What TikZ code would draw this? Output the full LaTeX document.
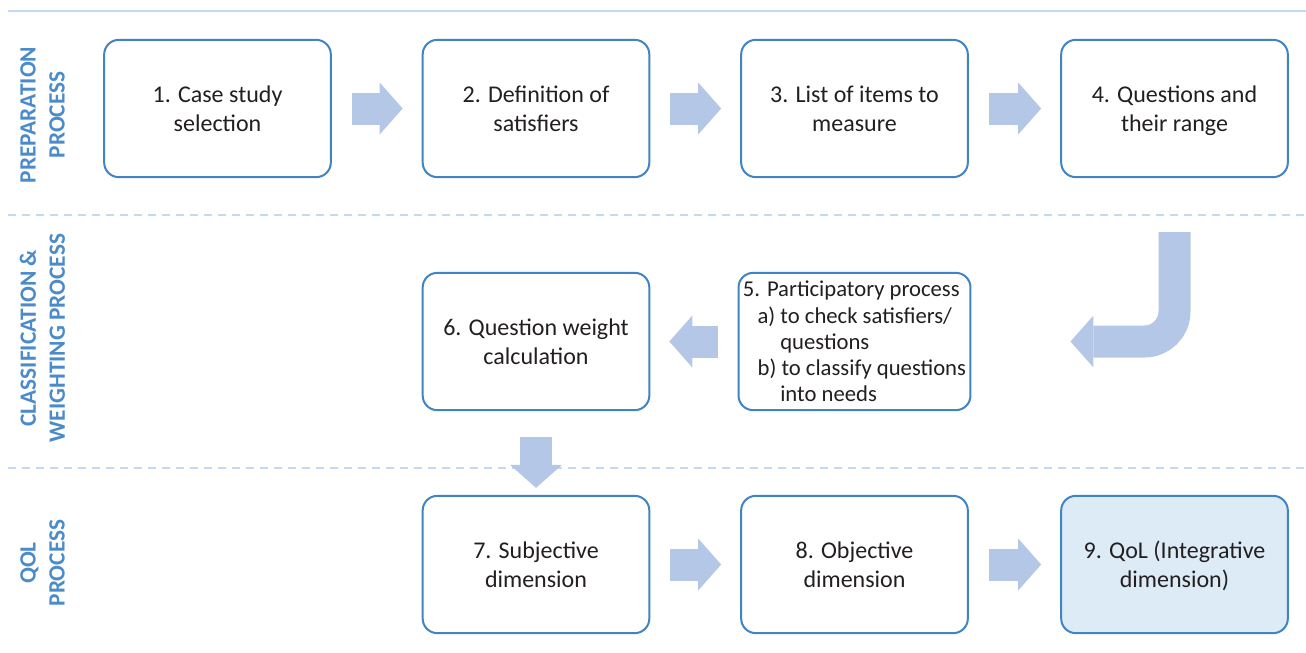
\documentclass[tikz,border=0pt]{standalone}
\usepackage{fontspec}
\setmainfont{Carlito}
\usetikzlibrary{arrows.meta}
\definecolor{boxline}{RGB}{65,132,196}
\definecolor{arrowfill}{RGB}{180,199,231}
\definecolor{qolfill}{RGB}{221,235,247}
\definecolor{rulecol}{RGB}{197,217,241}
\definecolor{phasecol}{RGB}{76,139,202}
\definecolor{textcol}{RGB}{35,31,32}

\begin{document}
\begin{tikzpicture}[x=0.75pt, y=-0.75pt,
  stepbox/.style={draw=boxline, line width=1.5pt, rounded corners=11pt, fill=white,
    minimum width=170pt, minimum height=103pt, align=center, text=textcol,
    font=\fontsize{18}{21.75}\selectfont, text depth=0pt},
  phase/.style={rotate=90, align=center, text=phasecol,
    font=\bfseries\fontsize{17.5}{21.75}\selectfont},
  fatarrow/.style={draw=arrowfill, line width=24pt,
    -{Triangle[length=17.25pt, width=39pt, line width=0pt]}},
  hgap/.style={shorten <=15pt, shorten >=14.25pt},
  rule/.style={draw=rulecol, line width=1.5pt}]
\useasboundingbox (0,0) rectangle (1306,653);

% phase separators
\draw[rule] (8,11) -- (1306,11);
\draw[rule, dash pattern=on 6pt off 4.5pt] (8,215) -- (1306,215);
\draw[rule, dash pattern=on 6pt off 4.5pt] (8,468) -- (1306,468);

\node[phase] (p1) at (42.5,115) {PREPARATION\\PROCESS};
\node[phase] (p2) at (42.5,338) {CLASSIFICATION \&\\WEIGHTING PROCESS};
\node[phase] (p3) at (42.5,563) {QOL\\PROCESS};

\node[stepbox] (b1) at (217.5,108.5) {1. Case study\\selection};
\node[stepbox] (b2) at (536,108.5) {2. Definition of\\satisfiers};
\node[stepbox] (b3) at (854.5,108.5) {3. List of items to\\measure};
\node[stepbox] (b4) at (1174.5,108.5) {4. Questions and\\their range};
\node[stepbox, align=left, font=\fontsize{17}{19.7}\selectfont] (b5) at (854.5,341.5)
  {5. Participatory process\\
   \hspace*{11pt}a) to check satisfiers/\\
   \hspace*{28pt}questions\\
   \hspace*{11pt}b) to classify questions\\
   \hspace*{28pt}into needs};
\node[stepbox] (b6) at (536,341.5) {6. Question weight\\calculation};
\node[stepbox] (b7) at (536,564.5) {7. Subjective\\dimension};
\node[stepbox] (b8) at (854.5,564.5) {8. Objective\\dimension};
\node[stepbox, fill=qolfill] (b9) at (1174.5,564.5) {9. QoL (Integrative\\dimension)};

\draw[fatarrow, hgap] (b1) -- (b2);
\draw[fatarrow, hgap] (b2) -- (b3);
\draw[fatarrow, hgap] (b3) -- (b4);
\draw[fatarrow, rounded corners=22.5pt, shorten <=40.5pt, shorten >=74.25pt] (b4.south) |- (b5.east);
\draw[fatarrow, hgap] (b5) -- (b6);
\draw[fatarrow, shorten <=19.5pt, shorten >=5.25pt] (b6) -- (b7);
\draw[fatarrow, hgap] (b7) -- (b8);
\draw[fatarrow, hgap] (b8) -- (b9);
\end{tikzpicture}
\end{document}
